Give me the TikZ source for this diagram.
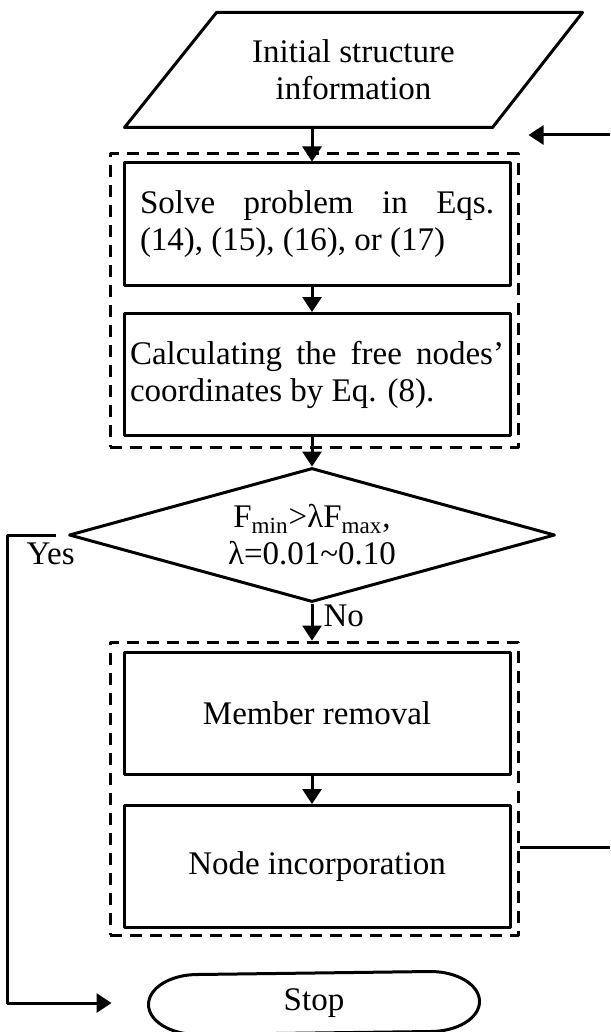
\documentclass[tikz,border=0pt]{standalone}
\usepackage{fontspec}
\setmainfont{Liberation Serif}
\usetikzlibrary{shapes.geometric, arrows.meta}

\begin{document}
\begin{tikzpicture}[
  x=0.5pt, y=-0.5pt,
  font=\fontsize{16.5}{18.5}\selectfont,
  line width=1.5pt, line join=round,
  datain/.style={rectangle, minimum width=227.5pt, minimum height=56pt, inner sep=0pt, align=center},
  process/.style={rectangle, draw, minimum width=193pt, minimum height=61pt, inner sep=0pt},
  group/.style={rectangle, draw, dash pattern=on 6pt off 4pt, minimum width=204pt, minimum height=146.5pt},
  decision/.style={diamond, draw, aspect=3.6, inner sep=0pt, minimum width=243pt, minimum height=67pt, align=center},
  arrow/.style={-{Triangle[length=7.5pt, width=9.5pt]}}
]
  \useasboundingbox (0,0) rectangle (610,1032);

  % input
  \node[datain] (info) at (353.5,70) {Initial structure\\information};
  \draw (info.south west) -- ([xshift=46pt]info.north west) -- (info.north east)
    -- ([xshift=-45pt]info.south east) -- cycle;

  % shape finding
  \node[group] (grpA) at (314,300.5) {};
  \node[process, text width=177pt, align=justify] (solve) at (317,224) {Solve problem in Eqs.\linebreak (14), (15), (16), or (17)};
  \node[process, text width=187pt, align=justify] (coord) at (317,374.5) {Calculating the free nodes'\linebreak coordinates by Eq. (8).};

  % check
  \node[decision] (dec) at (312,535) {F\textsubscript{min}>λF\textsubscript{max},\\λ=0.01\textasciitilde0.10};

  % topology update
  \node[group] (grpB) at (314,788.5) {};
  \node[process] (remove) at (317,713.5) {Member removal};
  \node[process] (merge) at (317,866.5) {Node incorporation};

  % end
  \node[minimum width=164pt, minimum height=30pt, inner sep=0pt] (stop) at (314,1003) {Stop};
  \draw ([xshift=24.5pt]stop.south west)
    arc[start angle=270, end angle=90, x radius=24.5pt, y radius=15pt]
    -- ([xshift=-24.5pt]stop.north east)
    arc[start angle=90, end angle=-90, x radius=24.5pt, y radius=15pt] -- cycle;

  \coordinate (backIn) at (610,135);
  \coordinate (backOut) at (610,847);

  \draw[arrow] (info.south -| dec) -- (solve.north -| dec);
  \draw[arrow] (solve.south -| dec) -- (coord.north -| dec);
  \draw[arrow] (coord.south -| dec) -- (dec.north);
  \draw[arrow] (dec.south) -- node[right=5pt, pos=0.33, inner sep=0pt] {No} (grpB.north -| dec);
  \draw[arrow] (remove.south -| dec) -- (merge.north -| dec);
  \draw[arrow] ([xshift=-6pt]dec.west) -- node[below, pos=0.1, inner sep=3pt] {Yes} ++(-24pt,0) |- ([xshift=-18.5pt]stop.west);

  % loop back
  \draw (backOut -| grpB.east) -- (backOut);
  \draw[arrow, shorten >=4.5pt] (backIn) -- (backIn -| grpA.east);
\end{tikzpicture}
\end{document}
